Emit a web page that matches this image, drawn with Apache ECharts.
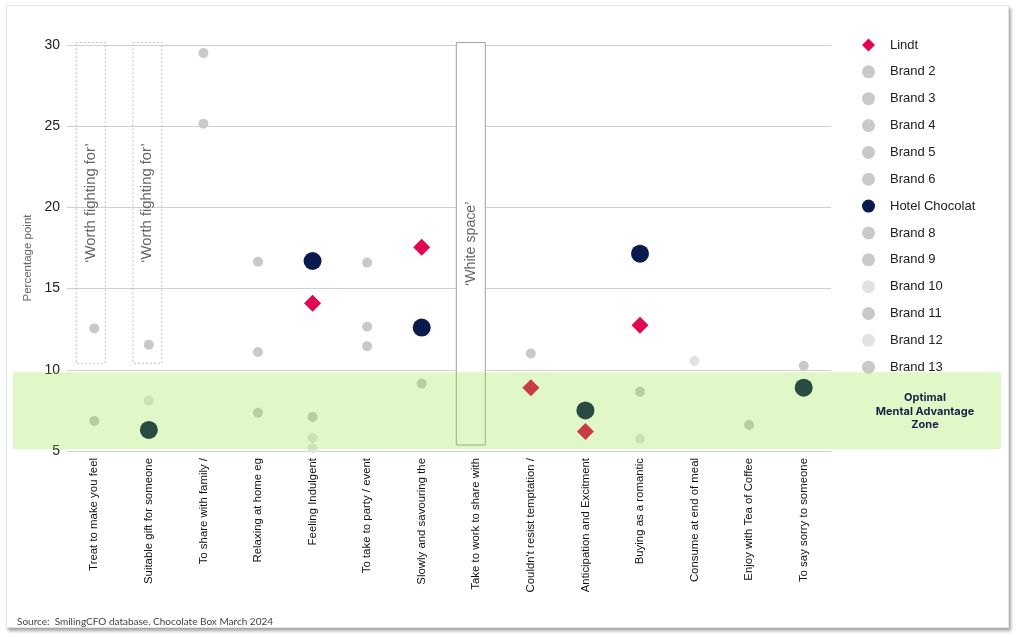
<!DOCTYPE html>
<html>
<head>
<meta charset="utf-8">
<script src="https://cdn.jsdelivr.net/npm/echarts@6/dist/echarts.min.js"></script>
<style>
html,body{margin:0;padding:0;background:#fff;}
#card{position:absolute;left:6px;top:5px;width:1001px;height:621px;background:#fff;border:1px solid #e4e4e4;box-shadow:2px 3px 3px rgba(0,0,0,0.35);}
#chart{position:absolute;left:0;top:0;width:1018px;height:638px;}
</style>
</head>
<body>
<div id="card"></div>
<div id="chart"></div>
<script>
const categories = [
  "Treat to make you feel", "Suitable gift for someone", "To share with family /",
  "Relaxing at home eg", "Feeling Indulgent", "To take to party / event",
  "Slowly and savouring the", "Take to work to share with", "Couldn't resist temptation /",
  "Anticipation and Excitment", "Buying as a romantic", "Consume at end of meal",
  "Enjoy with Tea of Coffee", "To say sorry to someone"
];
const yTicks = [5, 10, 15, 20, 25, 30];
const seriesNames = ["Lindt","Brand 2","Brand 3","Brand 4","Brand 5","Brand 6","Hotel Chocolat","Brand 8","Brand 9","Brand 10","Brand 11","Brand 12","Brand 13"];
const lindt    = [null, null, null, null, 14.1, null, 17.55, null, 8.9, 6.2, 12.75, null, null, null];
const brand2   = [12.55, null, 29.5, 16.65, null, 16.6, null, null, 11.0, null, null, null, null, 10.25];
const brand3   = [6.85, 11.55, 25.15, 11.1, null, 12.65, null, null, null, null, 8.65, null, null, null];
const brand4   = [null, null, null, null, null, 11.45, null, null, null, null, null, null, null, null];
const brand5   = [null, null, null, null, 7.1, null, null, null, null, null, null, null, null, null];
const brand6   = [null, null, null, null, null, null, 9.15, null, null, null, null, null, null, null];
const hotel    = [null, 6.3, null, null, 16.7, null, 12.6, null, null, 7.5, 17.15, null, null, 8.9];
const brand8   = [null, null, null, null, null, null, null, null, null, null, null, null, 6.6, null];
const brand9   = [null, null, null, 7.35, null, null, null, null, null, null, null, null, null, null];
const brand10  = [null, 8.1, null, null, 5.8, null, null, null, null, null, 5.75, 10.55, null, null];
const brand11  = [null, null, null, null, null, null, null, null, null, null, null, null, null, null];
const brand12  = [null, null, null, null, 5.15, null, null, null, null, null, null, null, null, null];
const brand13  = [null, null, null, null, null, null, null, null, null, null, null, null, null, null];
const seriesValues = [lindt, brand2, brand3, brand4, brand5, brand6, hotel, brand8, brand9, brand10, brand11, brand12, brand13];
const zoneRange = [5.12, 9.85];
const sourceText = "Source:  SmilingCFO database. Chocolate Box March 2024";

const GREY = '#c9c9c9', LIGHT = '#e2e2e2';
const colors = ['#e0064f', GREY, GREY, GREY, GREY, GREY, '#0b1a4d', GREY, GREY, LIGHT, GREY, LIGHT, GREY];

const chart = echarts.init(document.getElementById('chart'), null, {renderer: 'canvas'});
const series = seriesNames.map((n, i) => ({
  name: n,
  type: 'scatter',
  symbol: i === 0 ? 'diamond' : 'circle',
  symbolSize: i === 0 ? 17 : (i === 6 ? 18 : 10),
  itemStyle: {color: colors[i], opacity: 1},
  data: seriesValues[i],
  z: i === 0 || i === 6 ? 4 : 3,
  emphasis: {disabled: true}
}));

chart.setOption({
  animation: false,
  backgroundColor: 'transparent',
  grid: {left: 67, right: 187, top: 45, bottom: 187},
  legend: {
    orient: 'vertical', left: 862, top: 38.5, padding: 0,
    itemWidth: 13, itemHeight: 13, itemGap: 13.85,
    textStyle: {fontFamily: 'Liberation Sans, Arial', fontSize: 13, color: '#222', lineHeight: 13, padding: [0, 0, 0, 10]},
    data: seriesNames.map((n, i) => ({name: n, icon: i === 0 ? 'diamond' : 'circle'})),
    selectedMode: false
  },
  xAxis: {
    type: 'category', data: categories,
    axisTick: {show: false},
    axisLine: {lineStyle: {color: '#cfcfcf'}},
    axisLabel: {rotate: 90, interval: 0, margin: 7, fontSize: 11.4, color: '#111', fontFamily: 'Liberation Sans, Arial'}
  },
  yAxis: {
    type: 'value', min: yTicks[0], max: yTicks[yTicks.length - 1], interval: 5,
    name: 'Percentage point', nameLocation: 'middle', nameGap: 33, nameRotate: 90,
    nameTextStyle: {fontSize: 11.5, color: '#666', fontFamily: 'Liberation Sans, Arial', padding: [0, 20, 0, 0]},
    axisLine: {show: false}, axisTick: {show: false},
    axisLabel: {fontSize: 14, color: '#222', margin: 7, fontFamily: 'Liberation Sans, Arial'},
    splitLine: {lineStyle: {color: '#cfcfcf'}}
  },
  series: series
});

function px(c, v) { return chart.convertToPixel({xAxisIndex: 0, yAxisIndex: 0}, [c, v]); }
function boxAt(cat, top, bottom, offset, dashed, label, fill, fs) {
  const a = px(cat, top), b = px(cat, bottom);
  const cx = a[0] + offset, w = 29;
  return [
    {type: 'rect', z: 5, shape: {x: cx - w / 2, y: a[1], width: w, height: b[1] - a[1]},
     style: {fill: fill, stroke: dashed ? '#b0b0b0' : '#a0a0a0', lineWidth: 1, lineDash: dashed ? [1.5, 2.5] : null}},
    {type: 'text', z: 6, x: cx, y: (a[1] + b[1]) / 2, rotation: Math.PI / 2,
     style: {text: label, fill: '#666', font: fs + 'px "Liberation Sans", Arial', align: 'center', verticalAlign: 'middle'}}
  ];
}
const zTop = px(0, zoneRange[1])[1], zBot = px(0, zoneRange[0])[1];
const graphics = [].concat(
  boxAt(0, 30.15, 10.4, -3.5, true, '\u2018Worth fighting for\u2019', 'transparent', 14.8),
  boxAt(1, 30.15, 10.4, -1.5, true, '\u2018Worth fighting for\u2019', 'transparent', 14.8),
  boxAt(7, 30.15, 5.37, -5.5, false, '\u2018White space\u2019', '#ffffff', 14.2),
  [
    {type: 'rect', z: 100, shape: {x: 13, y: zTop, width: 988, height: zBot - zTop},
     style: {fill: 'rgba(132,224,36,0.25)'}},
    {type: 'text', z: 101, x: 925, y: (zTop + zBot) / 2 + 1,
     style: {text: 'Optimal\nMental Advantage\nZone', fill: '#1b2145', font: 'bold 11px Inter', align: 'center', verticalAlign: 'middle', lineHeight: 13.5}},
    {type: 'text', z: 101, x: 17, y: 622,
     style: {text: sourceText, fill: '#444', font: '10px Lato', align: 'left', verticalAlign: 'middle'}}
  ]
);
chart.setOption({graphic: graphics});
</script>
</body>
</html>
